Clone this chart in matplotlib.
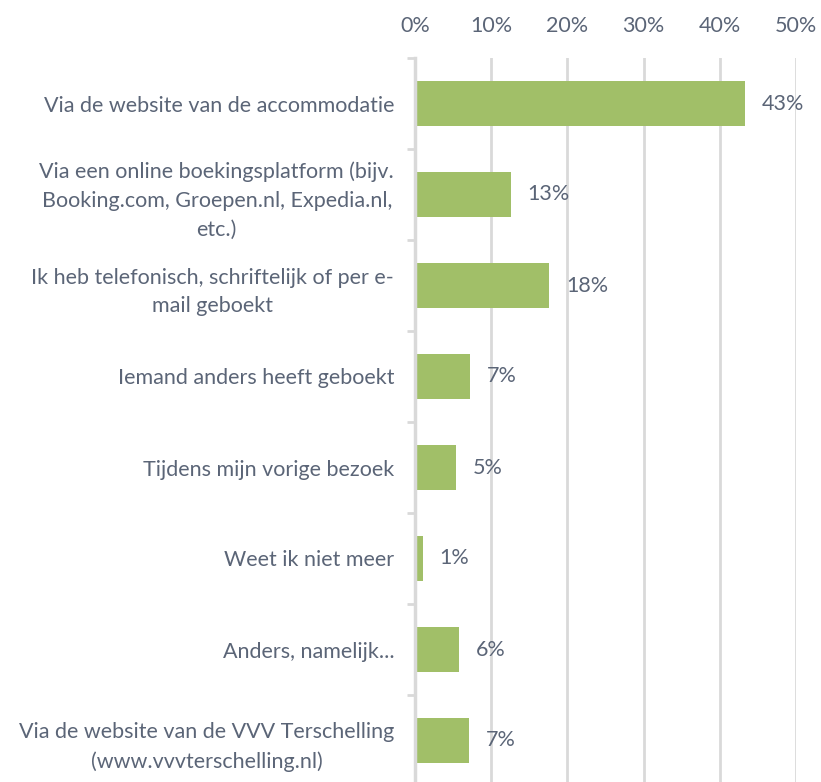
import matplotlib.pyplot as plt
import numpy as np

# Answer categories (top to bottom) and shares in percent
categories = [
    'Via de website van de accommodatie',
    'Via een online boekingsplatform (bijv.\nBooking.com, Groepen.nl, Expedia.nl,\netc.)',
    'Ik heb telefonisch, schriftelijk of per e-\nmail geboekt',
    'Iemand anders heeft geboekt',
    'Tijdens mijn vorige bezoek',
    'Weet ik niet meer',
    'Anders, namelijk...',
    'Via de website van de VVV Terschelling\n(www.vvvterschelling.nl)',
]
values = [43.3, 12.6, 17.6, 7.2, 5.4, 1.0, 5.8, 7.1]
xticks = [0, 10, 20, 30, 40, 50]

bar_color = '#a1bf68'
text_color = '#5b6577'
grid_color = '#d9d9d9'
fs = 15.5

plt.rcParams['font.family'] = ['Lato', 'DejaVu Sans']

fig = plt.figure(figsize=(8.21, 7.82), dpi=100)
ax = fig.add_axes([415 / 821, -4 / 782, 381 / 821, 728 / 782])

y = np.arange(len(categories))
ax.barh(y, values, height=0.5, color=bar_color, zorder=3)

for yi, v in zip(y, values):
    ax.text(v + 2.2, yi, f'{v:.0f}%', va='center', ha='left',
            fontsize=fs, color=text_color, clip_on=False)

ax.set_xlim(0, 50)
ax.set_ylim(len(categories) - 0.5, -0.5)
ax.xaxis.tick_top()
ax.set_xticks(xticks)
ax.set_xticklabels([f'{t}%' for t in xticks], fontsize=fs, color=text_color)
ax.tick_params(axis='x', length=0, pad=16)

ax.set_yticks(y)
ax.set_yticklabels(categories, fontsize=fs, color=text_color,
                   multialignment='center', linespacing=1.55)
ax.tick_params(axis='y', which='major', length=0, pad=15)
ax.set_yticks(np.arange(-0.5, len(categories), 1), minor=True)
ax.tick_params(axis='y', which='minor', length=6, width=2, color=grid_color)

ax.grid(axis='x', color=grid_color, linewidth=2, zorder=0)
for s in ['top', 'right', 'bottom']:
    ax.spines[s].set_visible(False)
ax.spines['left'].set_color(grid_color)
ax.spines['left'].set_linewidth(2.5)
ax.spines['left'].set_zorder(4)

fig.savefig('out.png', dpi=100)
